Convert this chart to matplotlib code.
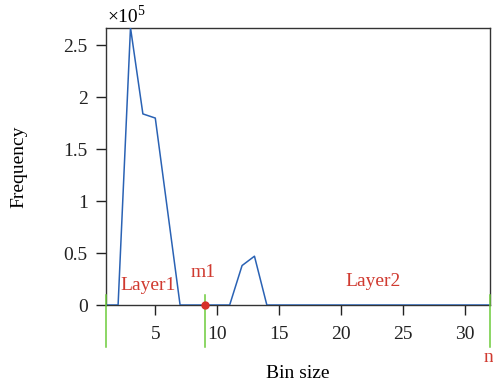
import matplotlib
matplotlib.use("Agg")
import matplotlib.pyplot as plt

# histogram of bin sizes (frequency in units of 1e5)
bin_size = list(range(1, 33))
freq = [0, 0, 2.67, 1.84, 1.80, 0.90, 0, 0, 0, 0, 0, 0.38, 0.47, 0,
        0, 0, 0, 0, 0, 0, 0, 0, 0, 0, 0, 0, 0, 0, 0, 0, 0, 0]
freq = [v * 1e5 for v in freq]

# layer boundaries and labels
bounds = [1, 9, 32]
marker_x = 9
layer_labels = ["Layer1", "Layer2"]
layer_label_pos = [(4.44, 0.19e5), (22.57, 0.225e5)]
bound_labels = ["m1", "n1"]

plt.rcParams["font.family"] = ["Liberation Serif", "DejaVu Serif"]
plt.rcParams["font.size"] = 14

fig = plt.figure(figsize=(4.93, 3.89), dpi=100)
ax = fig.add_axes([0.2144, 0.2159, 0.9939 - 0.2144, 0.9288 - 0.2159])

ax.plot(bin_size, freq, color="#2a62b4", lw=1.1, zorder=3)
ax.set_xlim(1, 32)
ax.set_ylim(0, 2.67e5)
ax.set_xticks([5, 10, 15, 20, 25, 30])
ax.set_yticks([0, 0.5e5, 1e5, 1.5e5, 2e5, 2.5e5])
ax.set_yticklabels(["0", "0.5", "1", "1.5", "2", "2.5"])

# offset text: ×10 with superscript 5
ax.annotate("×10", xy=(0, 1), xycoords="axes fraction", xytext=(1.5, 4.2),
            textcoords="offset points", ha="left", va="baseline", fontsize=14)
ax.annotate("5", xy=(0, 1), xycoords="axes fraction", xytext=(22.5, 9.5),
            textcoords="offset points", ha="left", va="baseline", fontsize=10)

for sp in ax.spines.values():
    sp.set_color("#333333")
    sp.set_linewidth(1.0)
ax.tick_params(direction="out", length=7, width=1, colors="#222222")
ax.tick_params(axis="x", pad=8)
ax.tick_params(axis="y", pad=6)

for b in bounds:
    ax.plot([b, b], [0.1e5, -0.405e5], color="#6ccb3a", lw=1.1, clip_on=False, zorder=4)
ax.plot([marker_x], [0], "o", color="#d8302a", ms=5, clip_on=False, zorder=5)

red = "#d03a30"
for lab, (x, y) in zip(layer_labels, layer_label_pos):
    ax.text(x, y, lab, color=red, ha="center", va="center")
ax.text(8.84, 0.31e5, bound_labels[0], color=red, ha="center", va="center")
ax.text(31.5, -0.51e5, bound_labels[1], color=red, ha="left", va="center", clip_on=False)

ax.set_xlabel("Bin size", labelpad=16)
ax.set_ylabel("Frequency", labelpad=26)

fig.savefig("out.png", dpi=100)
